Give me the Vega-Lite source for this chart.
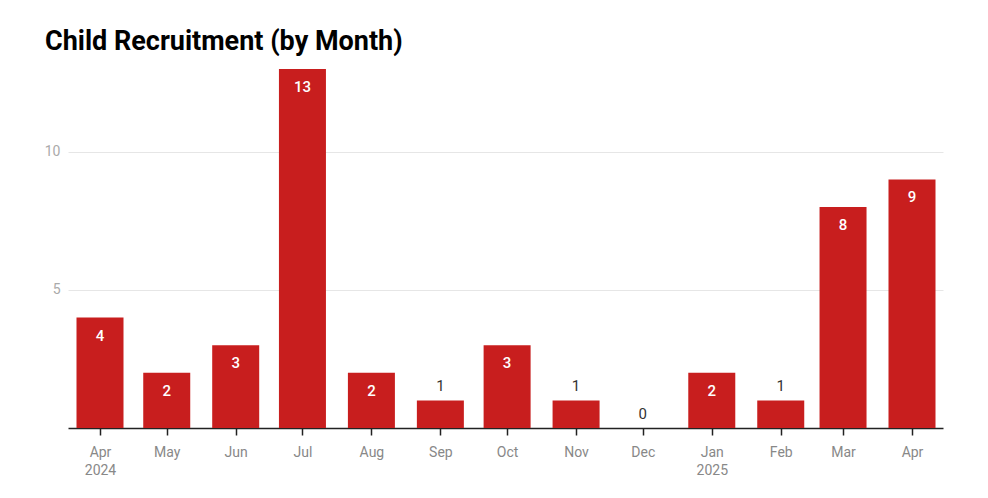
{
  "$schema": "https://vega.github.io/schema/vega-lite/v6.json",
  "width": 875,
  "height": 359,
  "autosize": {"type": "none"},
  "padding": {"left": 68, "top": 69, "right": 45, "bottom": 70},
  "background": "white",
  "title": {
    "text": "Child Recruitment (by Month)",
    "anchor": "start",
    "frame": "group",
    "dx": -23,
    "offset": 13,
    "font": "Roboto",
    "fontSize": 27,
    "fontWeight": "bold",
    "color": "#000000"
  },
  "config": {
    "view": {"stroke": null},
    "font": "Roboto"
  },
  "data": {
    "values": [
      {"month": "2024-04-01", "count": 4},
      {"month": "2024-05-01", "count": 2},
      {"month": "2024-06-01", "count": 3},
      {"month": "2024-07-01", "count": 13},
      {"month": "2024-08-01", "count": 2},
      {"month": "2024-09-01", "count": 1},
      {"month": "2024-10-01", "count": 3},
      {"month": "2024-11-01", "count": 1},
      {"month": "2024-12-01", "count": 0},
      {"month": "2025-01-01", "count": 2},
      {"month": "2025-02-01", "count": 1},
      {"month": "2025-03-01", "count": 8},
      {"month": "2025-04-01", "count": 9}
    ]
  },
  "encoding": {
    "x": {
      "field": "month",
      "type": "temporal",
      "scale": {
        "type": "utc",
        "domain": [1710686801970, 1744669560591],
        "nice": false,
        "padding": 0
      },
      "axis": {
        "title": null,
        "tickCount": {"interval": "month", "step": 1},
        "grid": false,
        "domainColor": "#222222",
        "domainWidth": 1.5,
        "tickColor": "#222222",
        "tickWidth": 1.5,
        "tickSize": 7,
        "labelPadding": 10,
        "labelFont": "Roboto",
        "labelFontSize": 14,
        "labelColor": "#888888",
        "labelLineHeight": 18,
        "labelBaseline": "top",
        "labelExpr": "(utcmonth(datum.value) == 0 || (utcyear(datum.value) == 2024 && utcmonth(datum.value) == 3)) ? [utcFormat(datum.value, '%b'), utcFormat(datum.value, '%Y')] : utcFormat(datum.value, '%b')"
      }
    },
    "y": {
      "field": "count",
      "type": "quantitative",
      "scale": {"domain": [0, 13], "nice": false},
      "axis": {
        "title": null,
        "values": [5, 10],
        "domain": false,
        "ticks": false,
        "labelPadding": 8,
        "labelFont": "Roboto",
        "labelFontSize": 14,
        "labelColor": "#aaaaaa",
        "gridColor": "#e6e6e6",
        "gridWidth": 1
      }
    }
  },
  "layer": [
    {
      "mark": {"type": "bar", "size": 47, "color": "#c81e1e"}
    },
    {
      "transform": [{"filter": "datum.count >= 2"}],
      "mark": {
        "type": "text",
        "baseline": "middle",
        "dy": 18,
        "color": "#ffffff",
        "font": "Roboto",
        "fontSize": 15,
        "fontWeight": 500
      },
      "encoding": {"text": {"field": "count", "type": "quantitative"}}
    },
    {
      "transform": [{"filter": "datum.count < 2"}],
      "mark": {
        "type": "text",
        "baseline": "middle",
        "dy": -14,
        "color": "#333333",
        "font": "Roboto",
        "fontSize": 15
      },
      "encoding": {"text": {"field": "count", "type": "quantitative"}}
    }
  ]
}
